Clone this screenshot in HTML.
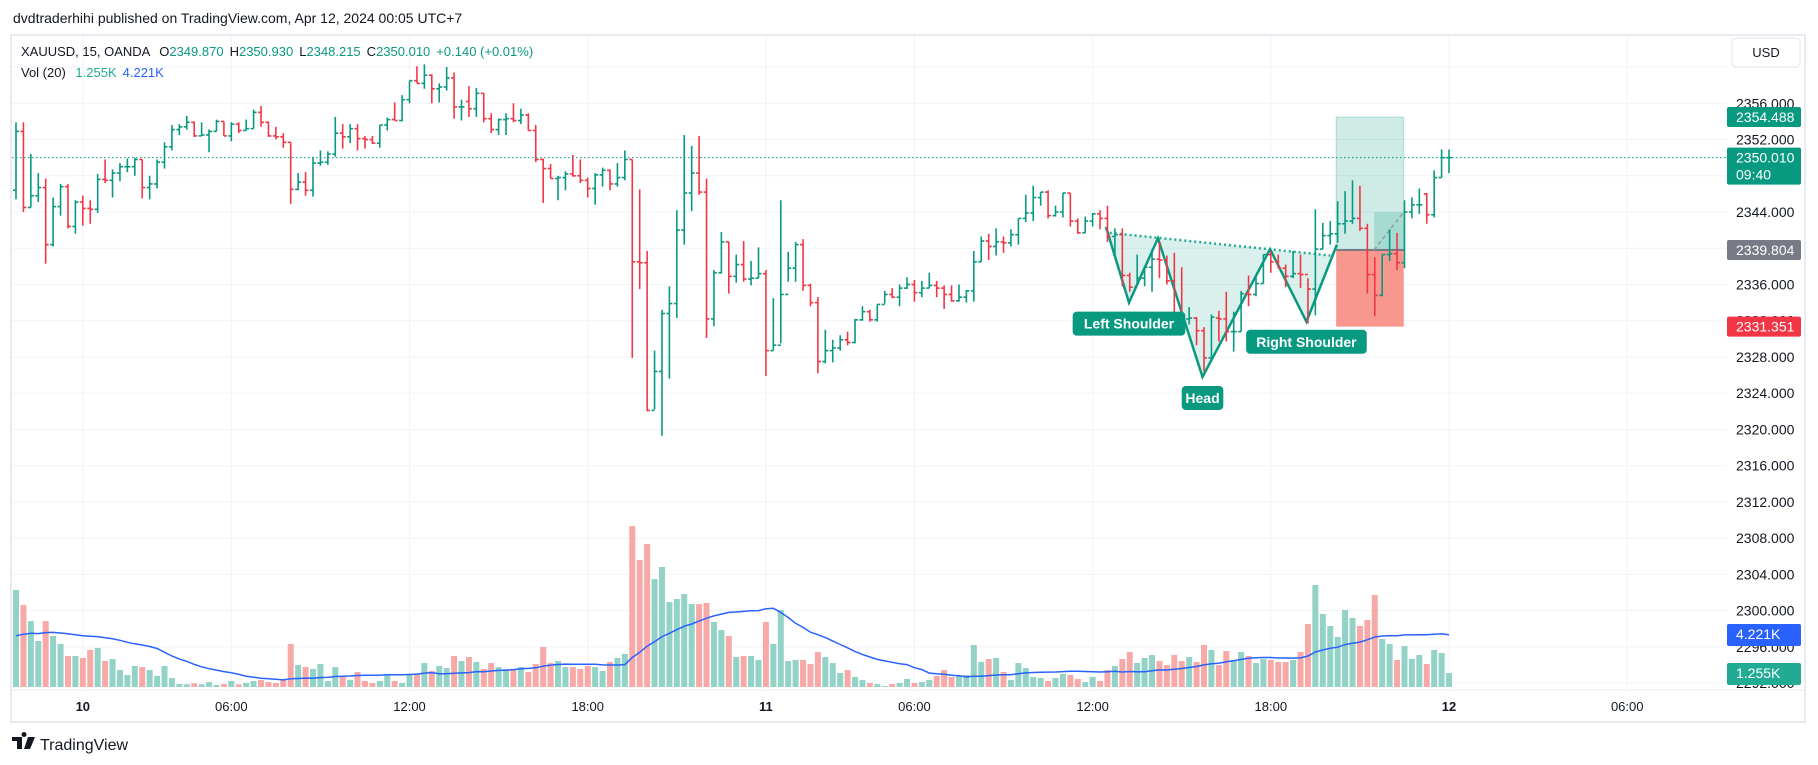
<!DOCTYPE html>
<html><head><meta charset="utf-8">
<style>
html,body{margin:0;padding:0;background:#fff;}
svg{display:block;font-family:"Liberation Sans",sans-serif;}
</style></head>
<body>
<svg id="c" width="1818" height="765" viewBox="0 0 1818 765" xmlns="http://www.w3.org/2000/svg">
<rect x="0" y="0" width="1818" height="765" fill="#ffffff"/>
<text x="13" y="23" font-size="14" fill="#131722">dvdtraderhihi published on TradingView.com, Apr 12, 2024 00:05 UTC+7</text>
<rect x="11" y="35" width="1794" height="687" fill="none" stroke="#e9ebf0" stroke-width="2"/>
<g id="grid"></g>
<g id="volg"></g>
<g id="annot"></g>
<g id="bars"></g>
<g id="axis"></g>
<g id="taxis"></g>
<text x="21" y="56" font-size="13" fill="#131722">XAUUSD, 15, OANDA <tspan dx="6">O</tspan><tspan fill="#089981">2349.870</tspan><tspan dx="6">H</tspan><tspan fill="#089981">2350.930</tspan><tspan dx="6">L</tspan><tspan fill="#089981">2348.215</tspan><tspan dx="6">C</tspan><tspan fill="#089981">2350.010</tspan><tspan dx="6" fill="#089981">+0.140 (+0.01%)</tspan></text>
<text x="21" y="77" font-size="13" fill="#131722">Vol (20) <tspan dx="6" fill="#22ab94">1.255K</tspan><tspan dx="6" fill="#2962ff">4.221K</tspan></text>
<g><rect x="1732" y="38" width="68" height="29" rx="4" fill="#fff" stroke="#e0e3eb"/><text x="1766" y="57" font-size="13" text-anchor="middle" fill="#131722">USD</text></g>
<g>
<path d="M12 737 h10 v12 h-5 v-8 h-5 z M24 737 a2.5 2.5 0 1 1 0.01 0 z M28 737 h7 l-5 12 h-6 z" fill="#131722"/>
<text x="40" y="750" font-size="16" fill="#131722">TradingView</text></g>
</svg>
<script>
const opens=[2346.4,2352.9,2344.5,2345.8,2346.7,2340.4,2344.6,2346.8,2342.4,2345.1,2344.4,2344.3,2347.6,2347.5,2348.3,2349.0,2349.0,2349.8,2346.7,2347.1,2349.5,2351.2,2353.1,2353.4,2353.9,2352.4,2352.5,2352.9,2354.0,2352.4,2353.7,2353.0,2353.2,2355.0,2353.9,2352.4,2352.3,2351.7,2346.5,2347.3,2346.4,2349.4,2349.5,2350.4,2352.7,2352.3,2353.2,2352.1,2352.0,2351.6,2353.6,2354.2,2354.1,2356.4,2358.5,2358.2,2359.1,2357.6,2357.8,2358.8,2355.6,2356.2,2355.4,2357.1,2354.3,2353.1,2354.2,2354.3,2354.1,2354.7,2353.0,2349.8,2348.8,2347.7,2347.8,2348.2,2348.0,2347.5,2346.6,2348.1,2348.6,2347.1,2347.8,2349.8,2338.5,2338.4,2322.1,2326.4,2332.8,2333.9,2342.0,2346.1,2348.3,2346.2,2332.2,2337.3,2340.7,2336.9,2338.2,2336.6,2336.7,2337.2,2328.7,2329.3,2334.9,2337.8,2340.4,2335.9,2334.0,2327.5,2328.7,2329.0,2329.9,2329.6,2332.1,2333.0,2332.1,2333.8,2334.9,2334.6,2335.6,2336.0,2335.1,2335.6,2335.9,2335.6,2334.9,2334.2,2334.6,2335.3,2338.5,2340.8,2340.2,2340.7,2340.6,2341.5,2343.3,2343.9,2345.6,2346.2,2343.6,2344.0,2346.1,2343.0,2341.7,2343.0,2343.8,2343.3,2341.3,2341.5,2337.0,2335.7,2336.7,2337.9,2338.8,2338.7,2336.4,2332.7,2332.2,2332.3,2330.9,2327.9,2332.3,2332.2,2330.8,2330.8,2335.0,2334.9,2336.1,2339.3,2338.5,2337.8,2336.9,2337.2,2337.1,2335.5,2339.9,2341.4,2341.6,2342.7,2343.0,2343.3,2342.2,2337.1,2334.8,2339.3,2339.4,2338.4,2344.0,2344.8,2346.0,2343.7,2347.8,2350.0];
const highs=[2353.9,2353.9,2350.4,2348.3,2347.7,2345.6,2347.1,2347.1,2345.3,2345.8,2345.3,2348.2,2349.8,2348.7,2349.4,2349.9,2350.0,2349.8,2348.0,2349.8,2351.7,2353.6,2353.7,2354.6,2354.0,2353.9,2353.1,2354.2,2354.0,2353.9,2353.9,2354.2,2355.3,2355.7,2354.0,2353.4,2352.7,2351.7,2348.3,2348.4,2350.1,2350.8,2350.7,2354.5,2353.7,2353.7,2353.7,2352.4,2352.4,2353.6,2354.4,2356.1,2356.9,2358.5,2360.1,2360.3,2359.2,2358.2,2360.0,2359.4,2356.4,2357.9,2357.7,2357.1,2354.9,2354.3,2354.9,2356.0,2355.4,2354.9,2353.6,2349.9,2349.3,2348.0,2348.5,2350.3,2349.8,2347.8,2348.3,2348.9,2348.7,2349.4,2350.8,2349.8,2346.5,2339.7,2328.7,2333.2,2335.8,2344.2,2352.5,2351.3,2352.4,2347.7,2337.6,2341.8,2340.7,2339.3,2340.8,2338.6,2340.1,2337.6,2334.5,2345.3,2339.6,2340.7,2341.0,2336.1,2334.6,2331.0,2329.9,2330.4,2330.8,2332.2,2333.6,2333.2,2333.8,2335.3,2335.6,2336.0,2336.8,2336.5,2336.4,2337.3,2336.4,2335.9,2335.9,2336.0,2335.4,2339.7,2341.3,2341.6,2342.2,2341.3,2342.1,2343.3,2345.9,2346.9,2346.2,2346.4,2344.7,2346.1,2346.1,2343.3,2343.5,2343.9,2344.2,2344.7,2342.2,2342.2,2337.3,2339.3,2338.0,2339.9,2340.7,2339.2,2339.5,2337.9,2333.5,2332.4,2331.3,2332.7,2333.1,2335.2,2333.0,2335.3,2337.0,2337.0,2339.3,2339.7,2339.3,2338.2,2339.7,2339.3,2336.7,2344.3,2342.8,2343.0,2345.2,2346.3,2347.5,2346.9,2342.7,2339.0,2339.3,2342.1,2341.7,2345.3,2345.6,2346.6,2346.1,2348.6,2350.9,2350.9];
const lows=[2345.4,2344.0,2344.5,2345.1,2338.3,2340.2,2343.6,2342.2,2341.6,2342.5,2342.7,2343.9,2347.2,2345.6,2347.4,2348.4,2348.0,2345.5,2345.4,2346.6,2348.8,2350.8,2352.5,2353.1,2352.3,2352.4,2350.6,2352.9,2352.4,2351.8,2352.7,2353.0,2353.2,2353.4,2352.3,2352.0,2351.1,2344.9,2346.4,2345.8,2345.7,2349.1,2349.2,2350.1,2351.0,2351.6,2350.8,2351.0,2351.5,2351.1,2353.0,2354.1,2354.0,2356.0,2358.2,2357.6,2356.0,2356.1,2357.4,2354.3,2354.1,2354.5,2354.5,2353.9,2352.7,2352.5,2352.5,2353.9,2353.7,2353.0,2349.5,2345.0,2347.7,2345.3,2346.4,2347.9,2347.2,2345.6,2344.8,2346.8,2346.4,2346.8,2347.5,2327.9,2335.5,2322.0,2322.2,2319.3,2325.6,2332.3,2340.4,2344.1,2345.9,2330.1,2331.4,2337.2,2335.0,2336.2,2336.3,2335.9,2336.7,2325.9,2328.7,2329.5,2336.3,2336.3,2335.3,2333.6,2326.2,2327.3,2327.4,2328.7,2329.3,2329.5,2332.0,2331.9,2331.9,2333.9,2334.5,2333.6,2335.5,2334.1,2334.6,2335.6,2334.6,2333.3,2334.1,2334.1,2334.0,2334.1,2338.5,2338.7,2339.2,2339.5,2340.2,2340.4,2342.9,2343.0,2344.7,2343.3,2343.5,2343.4,2342.4,2341.6,2341.7,2342.4,2342.1,2340.7,2339.2,2335.8,2335.2,2335.9,2335.8,2335.2,2336.7,2336.0,2332.7,2332.2,2331.6,2329.3,2326.4,2328.0,2329.7,2329.7,2328.6,2330.8,2333.6,2334.7,2336.1,2337.3,2337.8,2335.7,2336.7,2335.6,2331.7,2332.6,2339.9,2340.4,2340.6,2341.6,2342.7,2341.9,2335.0,2332.5,2334.7,2338.6,2337.6,2337.8,2343.3,2343.8,2342.7,2343.4,2347.8,2348.3];
const closes=[2352.9,2344.5,2345.8,2346.7,2340.4,2344.6,2346.8,2342.4,2345.1,2344.4,2344.3,2347.6,2347.5,2348.3,2349.0,2349.0,2349.8,2346.7,2347.1,2349.5,2351.2,2353.1,2353.4,2353.9,2352.4,2352.5,2352.9,2354.0,2352.4,2353.7,2353.0,2353.2,2355.0,2353.9,2352.4,2352.3,2351.7,2346.5,2347.3,2346.4,2349.4,2349.5,2350.4,2352.7,2352.3,2353.2,2352.1,2352.0,2351.6,2353.6,2354.2,2354.1,2356.4,2358.5,2358.2,2359.1,2357.6,2357.8,2358.8,2355.6,2355.6,2355.4,2357.1,2354.3,2353.1,2354.2,2354.3,2354.1,2354.7,2353.0,2349.8,2348.8,2347.7,2347.8,2348.2,2348.0,2347.5,2346.6,2348.1,2348.6,2347.1,2347.8,2349.8,2338.5,2338.4,2322.1,2326.4,2332.8,2333.9,2342.0,2346.1,2348.3,2346.2,2332.2,2337.3,2340.7,2336.9,2338.2,2336.6,2336.7,2337.2,2328.7,2329.3,2334.9,2337.8,2340.4,2335.9,2334.0,2327.5,2328.7,2329.0,2329.9,2329.6,2332.1,2333.0,2332.1,2333.8,2334.9,2334.6,2335.6,2336.0,2335.1,2335.6,2335.9,2335.6,2334.9,2334.2,2334.6,2335.3,2338.5,2340.8,2340.2,2340.7,2340.6,2341.5,2343.3,2343.9,2345.6,2346.2,2343.6,2344.0,2346.1,2343.0,2341.7,2343.0,2343.8,2343.3,2341.3,2341.5,2337.0,2335.7,2336.7,2337.9,2338.8,2338.7,2336.4,2332.7,2332.2,2332.3,2330.9,2327.9,2332.4,2332.2,2330.8,2330.8,2335.0,2334.9,2336.1,2339.3,2338.5,2337.8,2336.9,2337.2,2337.1,2335.5,2339.9,2341.4,2341.6,2342.7,2343.0,2343.3,2342.2,2337.1,2334.8,2339.3,2339.4,2338.4,2344.0,2344.8,2344.8,2343.7,2347.8,2350.0,2350.0];
const volumes=[8.22,6.95,5.59,3.90,5.59,4.32,3.64,2.63,2.63,2.46,3.14,3.31,2.20,2.37,1.44,1.02,1.78,1.69,1.44,0.93,1.78,0.76,0.25,0.23,0.31,0.23,0.42,0.17,0.25,0.51,0.23,0.34,0.51,0.59,0.42,0.34,0.59,3.64,1.86,1.69,1.53,1.95,0.51,1.69,0.85,0.59,1.27,0.51,0.34,0.51,1.02,0.51,0.34,1.10,1.10,2.03,1.36,1.78,1.61,2.63,2.20,2.54,2.12,1.53,2.03,1.69,1.53,1.53,1.69,1.27,1.95,3.39,2.03,2.20,1.69,1.69,1.53,1.78,1.69,1.36,2.12,2.46,2.80,13.64,10.76,12.12,9.15,10.17,7.20,7.46,7.88,7.03,7.03,7.12,5.51,4.83,4.32,2.54,2.63,2.63,2.29,5.51,3.64,6.53,2.20,2.29,2.29,1.95,2.97,2.54,2.03,1.19,1.44,0.85,0.59,0.34,0.25,0.08,0.25,0.34,0.68,0.34,0.42,0.59,0.93,1.44,0.85,0.93,1.02,3.56,2.12,2.37,2.46,1.27,0.59,2.03,1.61,0.85,0.76,0.51,0.76,1.10,1.02,0.68,0.42,0.85,0.51,1.44,1.78,2.37,2.97,2.03,2.46,2.71,2.20,1.86,2.71,2.20,2.54,2.12,3.56,3.14,1.86,3.05,2.29,2.97,2.63,2.03,2.37,2.29,2.12,2.12,2.29,2.97,5.34,8.64,6.19,5.17,4.24,6.53,5.85,5.17,5.68,7.80,4.07,3.64,2.29,3.47,2.37,2.71,1.95,3.14,2.88,1.19];
const priorVolumes=[4.2,4.0,4.5,3.8,4.1,4.6,3.9,4.2,4.4,3.7,4.0,4.3,4.1,3.9,4.5,4.2,3.8,4.0,4.3];
const priceTicks=[2360,2356,2352,2348,2344,2340,2336,2332,2328,2324,2320,2316,2312,2308,2304,2300,2296,2292];
const timeLabels=["10","06:00","12:00","18:00","11","06:00","12:00","18:00","12","06:00"];
const timeLabelBars=[9,29,53,77,101,121,145,169,193,217];
const boldLabels=["10","11","12"];
const patternPts=[[146.8,2342.35],[149.9,2334.0],[153.8,2341.1],[159.8,2325.8],[168.9,2339.9],[173.8,2331.9],[177.9,2340.4]];
const necklinePts=[[147.3,2341.7],[177.0,2339.2]];
const patternLabels=["Left Shoulder","Head","Right Shoulder"];
const patternLabelAt=[[149.9,2333.0],[159.8,2324.8],[173.8,2331.0]];
const targetPrice=2354.488, entryPrice=2339.804, stopPrice=2331.351, lastPrice=2350.010;
const posStart=177.8, posEnd=186.9, posMid=182.9, posCurPrice=2344.0;

const NS="http://www.w3.org/2000/svg";
const X0=16, DX=7.425, Y0=103.3, PY=9.06, VBASE=687, VK=11.8;
const xs=i=>X0+i*DX;
const ys=p=>Y0+(2356-p)*PY;
const yv=v=>VBASE-v*VK;
const GREEN="#089981", RED="#f23645";
function mk(tag,attrs,parent){const e=document.createElementNS(NS,tag);for(const k in attrs)e.setAttribute(k,attrs[k]);parent.appendChild(e);return e;}
const grid=document.getElementById('grid');
priceTicks.forEach(p=>{
  const l=mk('line',{x1:12,x2:1727,y1:ys(p),y2:ys(p),stroke:'#f0f3fa','stroke-width':1},grid);
  
  
});
timeLabelBars.forEach(b=>{
  const l=mk('line',{x1:xs(b),x2:xs(b),y1:36,y2:689,stroke:'#f0f3fa','stroke-width':1},grid);
  
  
});
const vg=document.getElementById('volg');
volumes.forEach((v,i)=>{
  const up=closes[i]>=opens[i];
  const r=mk('rect',{x:xs(i)-3,y:yv(v),width:6,height:v*VK,fill:up?'#92d2c7':'#f7a9a7'},vg);
  
  
});
const all=priorVolumes.concat(volumes);let pts=[];
volumes.forEach((v,i)=>{const j=i+priorVolumes.length;let s=0;for(let k=j-19;k<=j;k++)s+=all[k];pts.push(xs(i).toFixed(1)+','+yv(s/20).toFixed(1));});
const ma=mk('polyline',{points:pts.join(' '),fill:'none',stroke:'#2962ff','stroke-width':1.5},vg);


const an=document.getElementById('annot');
const poly=patternPts.map(p=>xs(p[0])+','+ys(p[1])).concat([necklinePts[1],necklinePts[0]].map(p=>xs(p[0])+','+ys(p[1])));
const fillP=mk('polygon',{points:poly.join(' '),fill:'rgba(8,153,129,0.15)'},an);


const tp=mk('rect',{x:xs(posStart),y:ys(targetPrice),width:xs(posEnd)-xs(posStart),height:ys(entryPrice)-ys(targetPrice),fill:'rgba(8,153,129,0.2)',stroke:'rgba(8,153,129,0.25)'},an);


const sl=mk('rect',{x:xs(posStart),y:ys(entryPrice),width:xs(posEnd)-xs(posStart),height:ys(stopPrice)-ys(entryPrice),fill:'#f7978e'},an);


const cz=mk('rect',{x:xs(posMid),y:ys(posCurPrice),width:xs(posEnd)-xs(posMid),height:ys(entryPrice)-ys(posCurPrice),fill:'rgba(8,153,129,0.2)'},an);


const el=mk('line',{x1:xs(posStart),x2:xs(posEnd),y1:ys(entryPrice),y2:ys(entryPrice),stroke:'#787b86','stroke-width':2},an);


const dl=mk('line',{x1:xs(posMid),x2:xs(posEnd),y1:ys(entryPrice),y2:ys(posCurPrice),stroke:'#9598a1','stroke-width':1.5,'stroke-dasharray':'4 3'},an);


const nl=mk('line',{x1:xs(necklinePts[0][0]),y1:ys(necklinePts[0][1]),x2:xs(necklinePts[1][0]),y2:ys(necklinePts[1][1]),stroke:'#22ab94','stroke-width':2.5,'stroke-dasharray':'2 3'},an);


const pl=mk('polyline',{points:patternPts.map(p=>xs(p[0])+','+ys(p[1])).join(' '),fill:'none',stroke:'#089981','stroke-width':2.5},an);


const bg=document.getElementById('bars');
opens.forEach((o,i)=>{
  const c=closes[i],col=c>=o?GREEN:RED,x=xs(i);
  const g=mk('g',{stroke:col,'stroke-width':1.6},bg);
  
  
  mk('line',{x1:x,x2:x,y1:ys(highs[i]),y2:ys(lows[i])},g);
  mk('line',{x1:x-3,x2:x,y1:ys(o),y2:ys(o)},g);
  mk('line',{x1:x,x2:x+3,y1:ys(c),y2:ys(c)},g);
});
const lp=mk('line',{x1:12,x2:1727,y1:ys(lastPrice),y2:ys(lastPrice),stroke:'#089981','stroke-width':1,'stroke-dasharray':'1.5 2.5'},bg);


patternLabels.forEach((t,k)=>{
  const w=t.length*7.9+10,cx=xs(patternLabelAt[k][0]),top=ys(patternLabelAt[k][1]);
  const g=mk('g',{},an.parentNode);
  
  
  mk('rect',{x:cx-w/2,y:top,width:w,height:24,rx:4,fill:'#089981'},g);
  const tx=mk('text',{x:cx,y:top+17,'font-size':14,'font-weight':'bold','text-anchor':'middle',fill:'#fff'},g);tx.textContent=t;
});
const ax=document.getElementById('axis');
priceTicks.slice(1).forEach(p=>{
  const t=mk('text',{x:1736,y:ys(p)+5,'font-size':14,fill:'#131722'},ax);t.textContent=p.toFixed(3);
  
  
});
function tag(y,h,fill,lines,name){
  const g=mk('g',{},ax);
  
  
  mk('rect',{x:1727,y:y,width:74,height:h,rx:2,fill:fill},g);
  lines.forEach((s,k)=>{const t=mk('text',{x:1736,y:y+15+k*17,'font-size':14,fill:'#fff'},g);t.textContent=s;});
}
tag(ys(targetPrice)-10,20,'#089981',[targetPrice.toFixed(3)],'target-price-tag');
tag(ys(lastPrice)-10,37,'#089981',[lastPrice.toFixed(3),'09:40'],'last-price-tag');
tag(ys(entryPrice)-10,20,'#787b86',[entryPrice.toFixed(3)],'entry-price-tag');
tag(ys(stopPrice)-10,20,'#f23645',[stopPrice.toFixed(3)],'stop-price-tag');
tag(624,22,'#2962ff',['4.221K'],'volume-ma-tag');
tag(663,22,'#22ab94',['1.255K'],'volume-tag');
const ta=document.getElementById('taxis');
mk('line',{x1:12,x2:1805,y1:690,y2:690,stroke:'#e9ebf0','stroke-width':1},ta);
timeLabels.forEach((s,k)=>{
  const t=mk('text',{x:xs(timeLabelBars[k]),y:711,'font-size':13,'text-anchor':'middle',fill:'#131722','font-weight':boldLabels.includes(s)?'bold':'normal'},ta);
  t.textContent=s;
  
  
});
</script>
</body></html>
